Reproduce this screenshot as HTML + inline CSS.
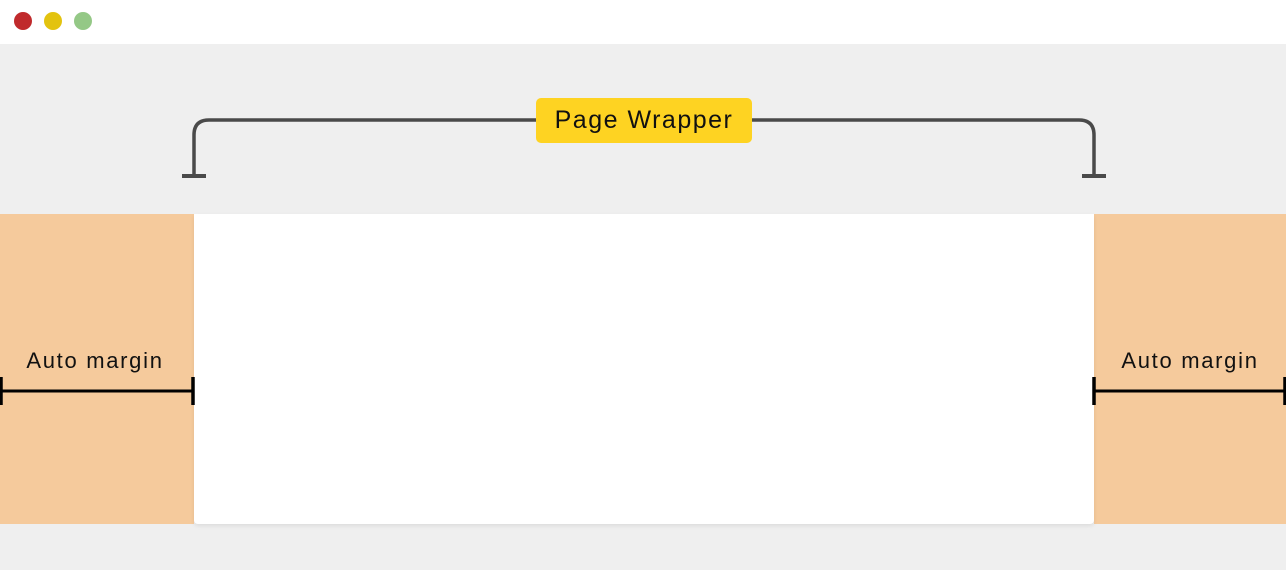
<!DOCTYPE html>
<html><head><style>
body{margin:0;width:1286px;height:570px;background:#efefef;position:relative;overflow:hidden;font-family:"Liberation Sans",sans-serif}
.top{position:absolute;left:0;top:0;width:1286px;height:44px;background:#fff}
.dot{position:absolute;top:12px;width:18px;height:18px;border-radius:50%}
.m{position:absolute;top:214px;height:310px;background:#f5ca9c}
.c{position:absolute;left:194px;top:214px;width:900px;height:310px;background:#fff;border-radius:0 0 4px 4px;box-shadow:0 2px 4px rgba(0,0,0,.08)}
.lbl{position:absolute;font-size:22px;color:#111;text-align:center;letter-spacing:1.7px}
.pw{position:absolute;left:536px;top:98px;width:216px;height:45px;background:#fed322;border-radius:5px;font-size:25px;line-height:45px;text-align:center;color:#111;letter-spacing:1.5px}
</style></head><body>
<div class="top"></div>
<div class="dot" style="left:14px;background:#c02a2c"></div>
<div class="dot" style="left:44px;background:#e3c30f"></div>
<div class="dot" style="left:74px;background:#94c886"></div>
<div class="m" style="left:0;width:194px"></div>
<div class="m" style="left:1094px;width:192px"></div>
<div class="c"></div>
<svg style="position:absolute;left:0;top:0" width="1286" height="570">
<path d="M194 176 V135 Q194 120 209 120 H1079 Q1094 120 1094 135 V176" fill="none" stroke="#4a4a4a" stroke-width="3.5"/>
<path d="M182 176 H206 M1082 176 H1106" stroke="#4a4a4a" stroke-width="4"/>
<path d="M1 391 H193 M1094 391 H1285" stroke="#000" stroke-width="3"/>
<path d="M1 377 V405 M193 377 V405 M1094 377 V405 M1285 377 V405" stroke="#000" stroke-width="3.5"/>
</svg>
<div class="lbl" style="left:0;width:190px;top:348px">Auto margin</div>
<div class="lbl" style="left:1094px;width:192px;top:348px">Auto margin</div>
<div class="pw">Page Wrapper</div>
</body></html>
